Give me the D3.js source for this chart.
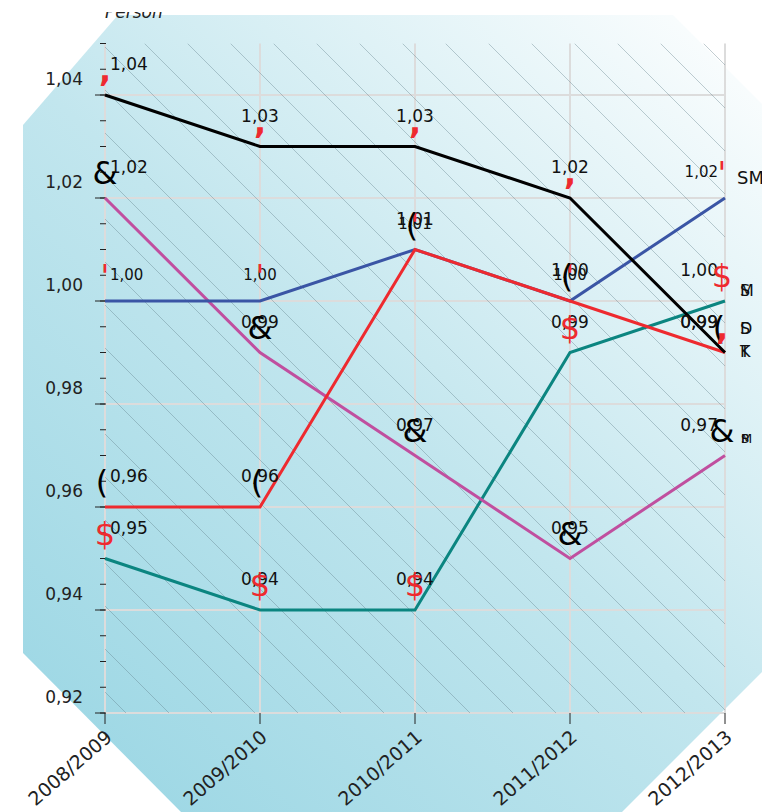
<!DOCTYPE html>
<html><head><meta charset="utf-8">
<script src="https://cdn.jsdelivr.net/npm/d3@7"></script>
<style>body{margin:0;background:#fff}svg{display:block}</style>
</head><body>
<script>
// ---- data ----
const categories = ["2008/2009","2009/2010","2010/2011","2011/2012","2012/2013"];
const seriesNames = ["SM","SMP","SMA","SD","TK"];
const smValues  = [0.95,0.94,0.94,0.99,1.00];   // teal
const smpValues = [1.02,0.99,0.97,0.95,0.97];   // magenta
const smaValues = [1.00,1.00,1.01,1.00,1.02];   // blue
const sdValues  = [0.96,0.96,1.01,1.00,0.99];   // red
const tkValues  = [1.04,1.03,1.03,1.02,0.99];   // black
const yTickValues = [0.92,0.94,0.96,0.98,1.00,1.02,1.04];
const yMinorTicks = d3.range(0.92,1.0501,0.005);
const yTitle = "Person";

// ---- styles ----
const styles = [
  {color:"#0b8580", glyph:"$", gcol:"#ee2a2f", lsize:17, ldy:-25, nx:740, ndy:-5,  nsize:16, overlap:true},
  {color:"#c04f9f", glyph:"&", gcol:"#000",    lsize:17, ldy:-25, nx:741, ndy:-13, nsize:13, overlap:true},
  {color:"#3a55a5", glyph:"'", gcol:"#ee2a2f", lsize:15, ldy:-21, nx:737, ndy:-14, nsize:18, overlap:false},
  {color:"#ee2a2f", glyph:"(", gcol:"#000",    lsize:17, ldy:-25, nx:740, ndy:-19, nsize:16, overlap:true},
  {color:"#000",    glyph:",", gcol:"#ee2a2f", lsize:17, ldy:-25, nx:740, ndy:4,   nsize:16, overlap:true}
];
const seriesValues = [smValues, smpValues, smaValues, sdValues, tkValues];

const W = 762, H = 812;
const svg = d3.select("body").append("svg").attr("width",W).attr("height",H)
  .style("font-family","'DejaVu Sans', sans-serif");
const defs = svg.append("defs");

const grad = defs.append("linearGradient").attr("id","bg")
  .attr("gradientUnits","userSpaceOnUse").attr("x1",23).attr("y1",812).attr("x2",762).attr("y2",15);
grad.append("stop").attr("offset",0).attr("stop-color","#97d5e3");
grad.append("stop").attr("offset",0.5).attr("stop-color","#c2e6ee");
grad.append("stop").attr("offset",1).attr("stop-color","#ffffff");

const x = d3.scalePoint().domain(categories).range([105,725]);
const y = d3.scaleLinear().domain([0.92,1.05]).range([713,43.5]);
const pL = 105, pR = 725, pT = y(1.05), pB = y(0.92);

// background octagon
svg.append("polygon")
  .attr("points",[[118,15],[673,15],[762,104],[762,672],[622,812],[181,812],[23,653],[23,125]].map(p=>p.join(",")).join(" "))
  .attr("fill","url(#bg)");

defs.append("clipPath").attr("id","plot").append("rect")
  .attr("x",pL).attr("y",pT).attr("width",pR-pL).attr("height",pB-pT);
defs.append("clipPath").attr("id","ttl").append("rect")
  .attr("x",0).attr("y",12).attr("width",W).attr("height",40);

// grid
const grid = svg.append("g");
grid.selectAll("line.h").data(yTickValues).join("line")
  .attr("x1",pL).attr("x2",pR).attr("y1",d=>y(d)).attr("y2",d=>y(d))
  .attr("stroke","#dcdcdc").attr("stroke-width",2);
grid.selectAll("line.v").data(categories).join("line")
  .attr("x1",d=>x(d)).attr("x2",d=>x(d)).attr("y1",pT).attr("y2",pB)
  .attr("stroke","#dcdcdc").attr("stroke-width",2);

// hatch
const hatch = svg.append("g").attr("clip-path","url(#plot)");
const hk = d3.range(-20, 20);
hatch.selectAll("line").data(hk).join("line")
  .attr("x1",k=>15+43*k+pT).attr("y1",pT)
  .attr("x2",k=>15+43*k+pB).attr("y2",pB)
  .attr("stroke","#5f7f88").attr("stroke-width",0.6).attr("stroke-opacity",0.65);

// y axis ticks
const ax = svg.append("g");
ax.selectAll("line.mn").data(yMinorTicks).join("line")
  .attr("x1",100).attr("x2",106).attr("y1",d=>y(d)).attr("y2",d=>y(d))
  .attr("stroke","#222").attr("stroke-width",1);
ax.selectAll("line.mj").data(yTickValues).join("line")
  .attr("x1",95).attr("x2",105).attr("y1",d=>y(d)).attr("y2",d=>y(d))
  .attr("stroke","#222").attr("stroke-width",1);
const fmt = d => d3.format(".2f")(d).replace(".",",");
ax.selectAll("text.yl").data(yTickValues).join("text")
  .attr("x",83).attr("y",d=>y(d)-10).attr("text-anchor","end")
  .attr("font-size",17).attr("fill","#222").text(fmt);

// x axis ticks and labels
ax.selectAll("line.xt").data(categories).join("line")
  .attr("x1",d=>x(d)).attr("x2",d=>x(d)).attr("y1",pB).attr("y2",pB+11)
  .attr("stroke","#222").attr("stroke-width",1);
ax.selectAll("text.xl").data(categories).join("text")
  .attr("text-anchor","end").attr("font-size",19).attr("fill","#222")
  .attr("transform",d=>`translate(${x(d)+4},${pB+21}) rotate(-41)`)
  .attr("dy","0.35em").text(d=>d);

// title
svg.append("text").attr("clip-path","url(#ttl)")
  .attr("x",105).attr("y",18).attr("font-size",17).attr("font-style","italic")
  .attr("fill","#222").text(yTitle);

// lines
const line = d3.line().x((d,i)=>x(categories[i])).y(d=>y(d));
const lg = svg.append("g");
seriesValues.forEach((vals,s)=>{
  lg.append("path").datum(vals).attr("d",line).attr("fill","none")
    .attr("stroke",styles[s].color).attr("stroke-width",3).attr("stroke-linejoin","miter");
});

// data labels
const labG = svg.append("g");
seriesValues.forEach((vals,s)=>{
  const st = styles[s];
  vals.forEach((v,i)=>{
    const t = labG.append("text").attr("font-size",st.lsize).attr("fill","#111")
      .attr("y",y(v)+st.ldy).text(fmt(v));
    const w = t.node().getComputedTextLength();
    let lx = x(categories[i]) - w/2;
    lx = Math.max(lx, 110);
    lx = Math.min(lx, 718 - w);
    t.attr("x",lx);
  });
});

// markers (glyphs)
const mg = svg.append("g");
seriesValues.forEach((vals,s)=>{
  const st = styles[s];
  mg.selectAll(null).data(vals).join("text")
    .attr("x",(d,i)=>x(categories[i]) - (i===4?3:0) - (st.glyph==="("?3:0))
    .attr("y",d=>y(d)-14)
    .attr("text-anchor","middle").attr("font-size",32)
    .attr("font-weight",st.glyph===","?"bold":"normal")
    .attr("fill",st.gcol).text(st.glyph);
});

// series name labels at line ends
const ng = svg.append("g");
seriesValues.forEach((vals,s)=>{
  const st = styles[s];
  const name = seriesNames[s];
  const t = ng.append("text").attr("font-size",st.nsize).attr("fill","#111")
    .attr("y",y(vals[vals.length-1])+st.ndy).text(name);
  if (st.overlap) t.attr("x",name.split("").map(()=>st.nx).join(" "));
  else t.attr("x",st.nx);
});
</script>
</body></html>
